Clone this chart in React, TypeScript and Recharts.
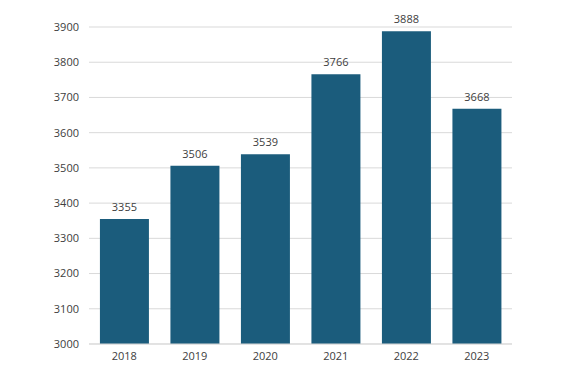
import { BarChart, Bar, XAxis, YAxis, CartesianGrid, LabelList } from 'recharts';

const years = ['2018', '2019', '2020', '2021', '2022', '2023'];
const values = [3355, 3506, 3539, 3766, 3888, 3668];
const yTicks = [3000, 3100, 3200, 3300, 3400, 3500, 3600, 3700, 3800, 3900];

const data = years.map((year, i) => ({ year, value: values[i] }));

const tickStyle = { fontSize: 11, fill: '#404040', fontFamily: 'Open Sans' };

const App = () => {
  return (
    <div style={{ position: 'absolute', left: 0, top: 0 }}>
      <BarChart
        width={584}
        height={365}
        data={data}
        margin={{ top: 27, right: 72, bottom: 0, left: 0 }}
        barCategoryGap="15.5%"
      >
        <CartesianGrid vertical={false} stroke="#d9d9d9" />
        <XAxis
          dataKey="year"
          axisLine={{ stroke: '#d9d9d9' }}
          tickLine={false}
          height={21}
          tick={tickStyle}
        />
        <YAxis
          domain={[3000, 3900]}
          ticks={yTicks}
          axisLine={false}
          tickLine={false}
          width={89}
          tickMargin={4}
          tick={tickStyle}
        />
        <Bar dataKey="value" fill="#1b5c7c" isAnimationActive={false}>
          <LabelList
            dataKey="value"
            position="top"
            offset={8}
            style={{ fontSize: 11, fill: '#404040', fontFamily: 'Open Sans' }}
          />
        </Bar>
      </BarChart>
    </div>
  );
};

export default App;
